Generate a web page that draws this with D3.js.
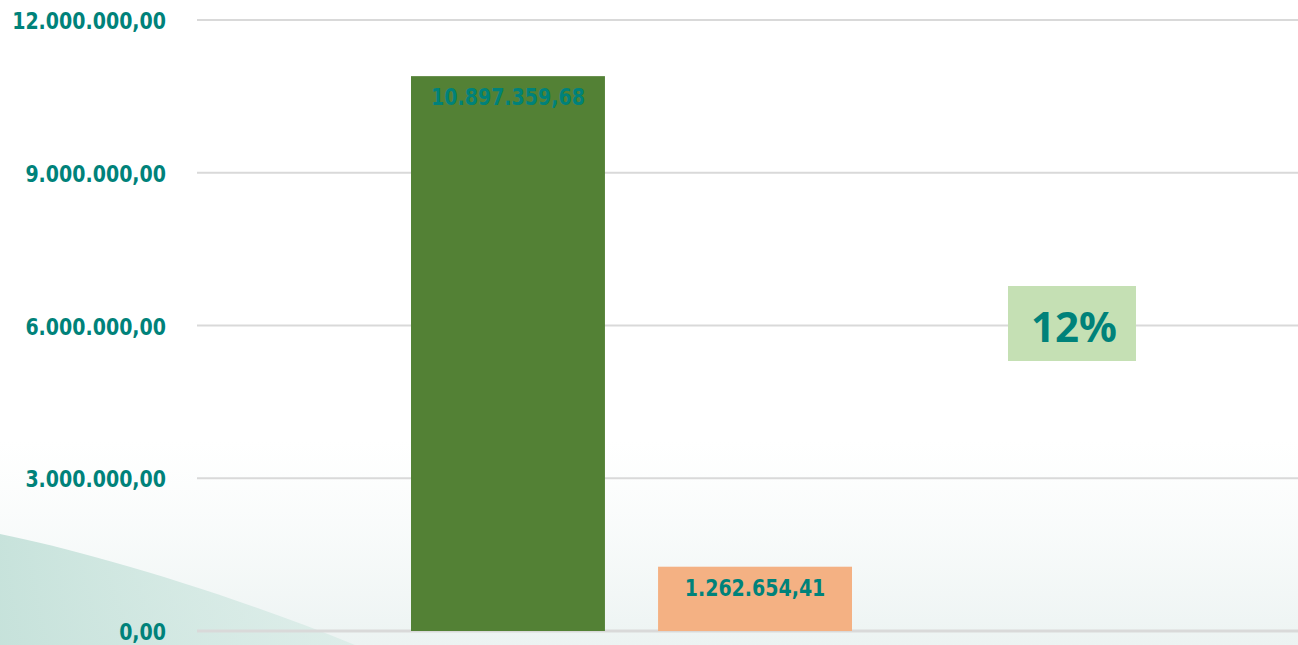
<!DOCTYPE html>
<html>
<head>
<meta charset="utf-8">
<script src="https://cdn.jsdelivr.net/npm/d3@7"></script>
<style>
  body { margin: 0; background: #ffffff; }
  text { font-family: "DejaVu Sans", sans-serif; font-weight: bold; }
  text.share { font-family: "Noto Sans", sans-serif; }
</style>
</head>
<body>
<div id="chart"></div>
<script>
// Data
var categories = ["Total", "Parcela"];
var values = [10897359.68, 1262654.41];
var barColors = ["#538135", "#f4b183"];
var tickValues = [0, 3000000, 6000000, 9000000, 12000000];
var shareLabel = "12%";

var width = 1298, height = 645;
var margin = {top: 20, right: 0, bottom: 14, left: 197};
var textColor = "#00827a";

var fmt = function(v) {
    // brazilian style number: 1.234.567,89
    var s = v.toFixed(2).split(".");
    return s[0].replace(/\B(?=(\d{3})+(?!\d))/g, ".") + "," + s[1];
};

var svg = d3.select("#chart").append("svg")
    .attr("width", width)
    .attr("height", height);

// soft background wave
var defs = svg.append("defs");
var grad = defs.append("linearGradient").attr("id", "wave")
    .attr("x1", 0).attr("y1", 0).attr("x2", 0).attr("y2", 1);
grad.append("stop").attr("offset", "0%").attr("stop-color", "#f3f8f7").attr("stop-opacity", 0);
grad.append("stop").attr("offset", "100%").attr("stop-color", "#ecf3f2").attr("stop-opacity", 1);
var grad2 = defs.append("linearGradient").attr("id", "wave2")
    .attr("x1", 0).attr("y1", 0).attr("x2", 1).attr("y2", 0);
grad2.append("stop").attr("offset", "0%").attr("stop-color", "#c2e0d8").attr("stop-opacity", 0.9);
grad2.append("stop").attr("offset", "100%").attr("stop-color", "#d3e9e3").attr("stop-opacity", 0.6);

svg.append("rect")
    .attr("x", 0).attr("y", 440).attr("width", width).attr("height", 205)
    .attr("fill", "url(#wave)");
svg.append("path")
    .attr("d", "M0,534 C80,550 220,590 355,645 L0,645 Z")
    .attr("fill", "url(#wave2)");

var y = d3.scaleLinear()
    .domain([0, 12000000])
    .range([631, margin.top]);

var x = d3.scaleBand()
    .domain(categories)
    .range([411, 852])
    .paddingInner(0.215)
    .paddingOuter(0);

// gridlines
svg.append("g")
    .selectAll("line")
    .data(tickValues)
    .enter()
    .append("line")
    .attr("x1", margin.left)
    .attr("x2", width)
    .attr("y1", function(d) { return y(d); })
    .attr("y2", function(d) { return y(d); })
    .attr("stroke", "#d9d9d9")
    .attr("stroke-width", function(d) { return d === 0 ? 3 : 2; });

// y tick labels (tall lettering)
svg.append("g")
    .selectAll("text")
    .data(tickValues)
    .enter()
    .append("text")
    .attr("transform", function(d) { return "translate(166," + (y(d) + 9) + ") scale(1,1.25)"; })
    .attr("text-anchor", "end")
    .attr("font-size", 19)
    .attr("fill", textColor)
    .text(function(d) { return fmt(d); });

// bars
svg.append("g")
    .selectAll("rect")
    .data(values)
    .enter()
    .append("rect")
    .attr("x", function(d, i) { return x(categories[i]); })
    .attr("y", function(d) { return y(d); })
    .attr("width", x.bandwidth())
    .attr("height", function(d) { return y(0) - y(d); })
    .attr("fill", function(d, i) { return barColors[i]; });

// value labels
svg.append("g")
    .selectAll("text")
    .data(values)
    .enter()
    .append("text")
    .attr("transform", function(d, i) {
        return "translate(" + (x(categories[i]) + x.bandwidth() / 2) + "," + (y(d) + 29) + ") scale(1,1.25)";
    })
    .attr("text-anchor", "middle")
    .attr("font-size", 19)
    .attr("fill", textColor)
    .text(function(d) { return fmt(d); });

// share box
var box = svg.append("g").attr("transform", "translate(1008,286)");
box.append("rect")
    .attr("width", 128)
    .attr("height", 75)
    .attr("fill", "#c5e0b4");
box.append("text")
    .attr("class", "share")
    .attr("x", 66)
    .attr("y", 56)
    .attr("text-anchor", "middle")
    .attr("font-size", 42)
    .attr("fill", textColor)
    .text(shareLabel);
</script>
</body>
</html>
